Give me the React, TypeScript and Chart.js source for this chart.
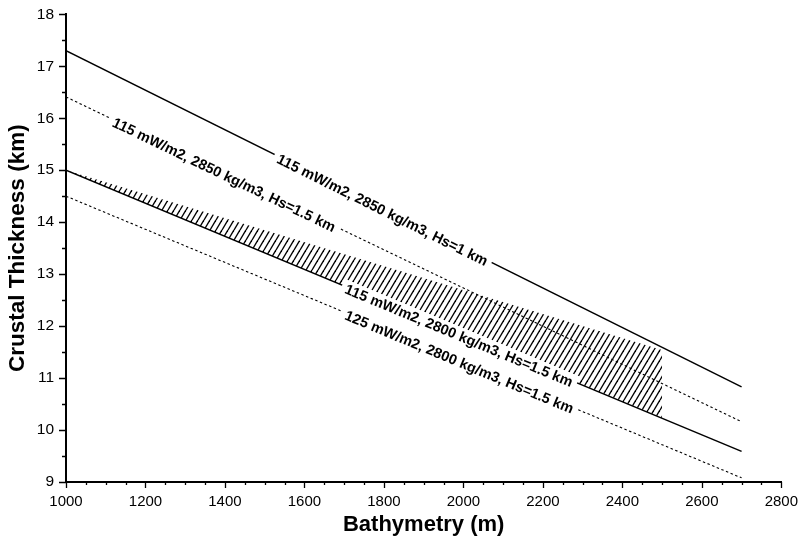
import React, { useEffect, useRef } from 'react';
import { Chart, registerables } from 'chart.js';

Chart.register(...registerables);

// ---- data ----
const bathymetryEnds = [1000, 2700];
const line115_2850_hs1 = [17.3, 10.83];
const line115_2850_hs15 = [16.41, 10.16];
const line115_2800_hs15 = [15.0, 9.59];
const line125_2800_hs15 = [14.5, 9.08];

const hatchX = [1000, 2500];
const hatchUpper = [15.0, 11.54];
const hatchLower = [15.0, 10.23];

const lineLabels = [
  '115 mW/m2, 2850 kg/m3, Hs=1 km',
  '115 mW/m2, 2850 kg/m3, Hs=1.5 km',
  '115 mW/m2, 2800 kg/m3, Hs=1.5 km',
  '125 mW/m2, 2800 kg/m3, Hs=1.5 km',
];
const labelStartBathymetry = [1525, 1111, 1695, 1695];

const xMin = 1000;
const xMax = 2800;
const xMajorStep = 200;
const xMinorStep = 50;
const yMin = 9;
const yMax = 18;
const yMajorStep = 1;
const yMinorStep = 0.5;

const FONT = "'Liberation Sans', Arial, Helvetica, sans-serif";

function pts(xs: number[], ys: number[]) {
  return xs.map((x, i) => ({ x, y: ys[i] }));
}

function makeHatch(): CanvasPattern | string {
  const w = 6;
  const h = 10;
  const c = document.createElement('canvas');
  c.width = w;
  c.height = h;
  const g = c.getContext('2d');
  if (!g) return '#000';
  g.strokeStyle = '#000';
  g.lineWidth = 1.4;
  for (const off of [-w, 0, w]) {
    g.beginPath();
    g.moveTo(off, h);
    g.lineTo(off + w, 0);
    g.stroke();
  }
  return g.createPattern(c, 'repeat') || '#000';
}

const labelPlugin = {
  id: 'lineLabels',
  afterDatasetsDraw(chart: any) {
    const ctx = chart.ctx;
    const xs = chart.scales.x;
    ctx.save();
    ctx.font = `bold 14.5px ${FONT}`;
    for (let i = 0; i < lineLabels.length; i++) {
      const meta = chart.getDatasetMeta(i);
      const p0 = meta.data[0];
      const p1 = meta.data[1];
      const ang = Math.atan2(p1.y - p0.y, p1.x - p0.x);
      const px = xs.getPixelForValue(labelStartBathymetry[i]);
      const py = p0.y + ((px - p0.x) * (p1.y - p0.y)) / (p1.x - p0.x);
      const w = ctx.measureText(lineLabels[i]).width;
      ctx.save();
      ctx.translate(px, py);
      ctx.rotate(ang);
      ctx.fillStyle = '#fff';
      ctx.fillRect(0, -7, w + 9, 17);
      ctx.fillStyle = '#000';
      ctx.textBaseline = 'middle';
      ctx.textAlign = 'left';
      ctx.fillText(lineLabels[i], 4.5, 2.5);
      ctx.restore();
    }
    ctx.restore();
  },
};

const tickPlugin = {
  id: 'axisTicks',
  afterDraw(chart: any) {
    const ctx = chart.ctx;
    const xs = chart.scales.x;
    const ys = chart.scales.y;
    const area = chart.chartArea;
    ctx.save();
    ctx.strokeStyle = '#000';
    ctx.lineWidth = 1.3;
    ctx.beginPath();
    for (let v = xMin; v <= xMax + 1e-6; v += xMinorStep) {
      const major = Math.abs(v / xMajorStep - Math.round(v / xMajorStep)) < 1e-6;
      const px = Math.round(xs.getPixelForValue(v)) + 0.5;
      ctx.moveTo(px, area.bottom);
      ctx.lineTo(px, area.bottom + (major ? 6 : 3));
    }
    for (let v = yMin; v <= yMax + 1e-6; v += yMinorStep) {
      const major = Math.abs(v / yMajorStep - Math.round(v / yMajorStep)) < 1e-6;
      const py = Math.round(ys.getPixelForValue(v)) + 0.5;
      ctx.moveTo(area.left, py);
      ctx.lineTo(area.left - (major ? 7 : 4), py);
    }
    ctx.stroke();
    ctx.restore();
  },
};

export default function App() {
  const ref = useRef<HTMLCanvasElement | null>(null);

  useEffect(() => {
    if (!ref.current) return;
    const hatch = makeHatch();
    const solid = { borderColor: '#000', borderWidth: 1.5, pointRadius: 0, fill: false };
    const dotted = { borderColor: '#000', borderWidth: 1.1, borderDash: [2.5, 2.5], pointRadius: 0, fill: false };
    const chart = new Chart(ref.current, {
      type: 'scatter',
      data: {
        datasets: [
          { label: lineLabels[0], data: pts(bathymetryEnds, line115_2850_hs1), showLine: true, order: 1, ...solid },
          { label: lineLabels[1], data: pts(bathymetryEnds, line115_2850_hs15), showLine: true, order: 1, ...dotted },
          { label: lineLabels[2], data: pts(bathymetryEnds, line115_2800_hs15), showLine: true, order: 1, ...solid },
          { label: lineLabels[3], data: pts(bathymetryEnds, line125_2800_hs15), showLine: true, order: 1, ...dotted },
          {
            label: 'hatch lower',
            data: pts(hatchX, hatchLower),
            showLine: true,
            borderWidth: 0,
            borderColor: 'rgba(0,0,0,0)',
            pointRadius: 0,
            fill: false,
            order: 5,
          },
          {
            label: 'hatch upper',
            data: pts(hatchX, hatchUpper),
            showLine: true,
            borderWidth: 0,
            borderColor: 'rgba(0,0,0,0)',
            backgroundColor: hatch as any,
            pointRadius: 0,
            fill: 4,
            order: 5,
          },
        ],
      },
      options: {
        animation: false,
        responsive: true,
        maintainAspectRatio: false,
        layout: { padding: { left: 0, top: 13, right: 19, bottom: 0 } },
        plugins: {
          legend: { display: false },
          tooltip: { enabled: false },
          filler: { propagate: false },
        },
        scales: {
          x: {
            type: 'linear',
            min: xMin,
            max: xMax,
            afterFit: (s: any) => {
              s.height = 57;
            },
            border: { display: true, width: 2, color: '#000' },
            grid: { display: true, drawOnChartArea: false, drawTicks: true, tickLength: 6, tickColor: 'rgba(0,0,0,0)' },
            ticks: {
              stepSize: xMajorStep,
              autoSkip: false,
              maxRotation: 0,
              padding: 5,
              color: '#000',
              font: { family: FONT, size: 15 },
              callback: (v: any) => String(v),
            },
            title: {
              display: true,
              text: 'Bathymetry (m)',
              color: '#000',
              font: { family: FONT, size: 22, weight: 'bold', lineHeight: 1.2 },
              padding: { top: 0, bottom: 1 },
            },
          },
          y: {
            type: 'linear',
            min: yMin,
            max: yMax,
            afterFit: (s: any) => {
              s.width = 66;
            },
            border: { display: true, width: 2, color: '#000' },
            grid: { display: true, drawOnChartArea: false, drawTicks: true, tickLength: 7, tickColor: 'rgba(0,0,0,0)' },
            ticks: {
              stepSize: yMajorStep,
              autoSkip: false,
              padding: 5,
              color: '#000',
              font: { family: FONT, size: 15.5 },
              callback: (v: any) => String(v),
            },
            title: {
              display: true,
              text: 'Crustal Thickness (km)',
              color: '#000',
              font: { family: FONT, size: 22.5, weight: 'bold', lineHeight: 1.2 },
              padding: { top: 4, bottom: 0 },
            },
          },
        },
      },
      plugins: [tickPlugin, labelPlugin],
    } as any);
    return () => chart.destroy();
  }, []);

  return (
    <div style={{ position: 'fixed', left: 0, top: 0, width: 803, height: 539, background: '#fff' }}>
      <canvas ref={ref} />
    </div>
  );
}
